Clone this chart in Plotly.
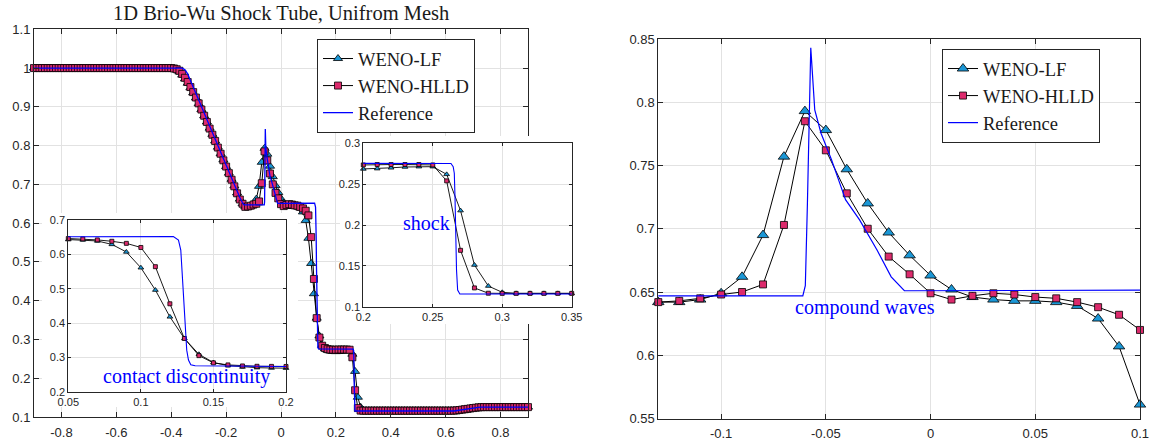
import plotly.graph_objects as go

# ---------------- data ----------------
# numerical mesh (uniform, dx = 0.01)
X_MESH = [round(-0.9 + 0.01 * i, 2) for i in range(181)]

WENO_LF = [
    1.0, 1.0, 1.0, 1.0, 1.0, 1.0, 1.0, 1.0, 1.0, 1.0,
    1.0, 1.0, 1.0, 1.0, 1.0, 1.0, 1.0, 1.0, 1.0, 1.0,
    1.0, 1.0, 1.0, 1.0, 1.0, 1.0, 1.0, 1.0, 1.0, 1.0,
    1.0, 1.0, 1.0, 1.0, 1.0, 1.0, 1.0, 1.0, 1.0, 1.0,
    1.0, 1.0, 1.0, 1.0, 1.0, 1.0, 1.0, 1.0, 1.0, 1.0,
    0.999, 0.998, 0.995, 0.990, 0.982, 0.972, 0.961, 0.949, 0.936, 0.923,
    0.908, 0.893, 0.877, 0.861, 0.845, 0.829, 0.812, 0.796, 0.779, 0.763,
    0.746, 0.729, 0.713, 0.696, 0.678, 0.662, 0.650, 0.642, 0.642, 0.644,
    0.649, 0.662, 0.695, 0.757, 0.793, 0.778, 0.747, 0.720, 0.697, 0.679,
    0.663, 0.652, 0.646, 0.644, 0.643, 0.643, 0.642, 0.639, 0.629, 0.607,
    0.561, 0.496, 0.418, 0.355, 0.309, 0.285, 0.276, 0.272, 0.270, 0.269,
    0.2686, 0.269, 0.270, 0.271, 0.2714, 0.2714, 0.262, 0.2176, 0.151, 0.1253,
    0.1176,
    0.1163, 0.1163, 0.1163, 0.1163, 0.1163, 0.1163, 0.1163, 0.1163, 0.1163, 0.1163,
    0.1163, 0.1163, 0.1163, 0.1163, 0.1163, 0.1163, 0.1163, 0.1163, 0.1163, 0.1163,
    0.1163, 0.1163, 0.1163, 0.1163, 0.1163, 0.1163, 0.1163, 0.1163, 0.1163, 0.1163,
    0.1163, 0.1163,
    0.1165, 0.117, 0.118, 0.119, 0.120, 0.121, 0.122, 0.123, 0.124, 0.1248, 0.1253,
    0.1255, 0.1255, 0.1255, 0.1255, 0.1255, 0.1255, 0.1255, 0.1255, 0.1255, 0.1255,
    0.1255, 0.1255, 0.1255, 0.1255, 0.1255, 0.1255, 0.1255,
]

WENO_HLLD = [
    1.0, 1.0, 1.0, 1.0, 1.0, 1.0, 1.0, 1.0, 1.0, 1.0,
    1.0, 1.0, 1.0, 1.0, 1.0, 1.0, 1.0, 1.0, 1.0, 1.0,
    1.0, 1.0, 1.0, 1.0, 1.0, 1.0, 1.0, 1.0, 1.0, 1.0,
    1.0, 1.0, 1.0, 1.0, 1.0, 1.0, 1.0, 1.0, 1.0, 1.0,
    1.0, 1.0, 1.0, 1.0, 1.0, 1.0, 1.0, 1.0, 1.0, 1.0,
    1.0, 0.999, 0.997, 0.993, 0.985, 0.975, 0.964, 0.951, 0.938, 0.924,
    0.909, 0.893, 0.877, 0.861, 0.844, 0.828, 0.812, 0.795, 0.779, 0.762,
    0.746, 0.729, 0.712, 0.695, 0.677, 0.661, 0.650, 0.642, 0.643, 0.645,
    0.648, 0.650, 0.656, 0.703, 0.785, 0.762, 0.728, 0.700, 0.678, 0.664,
    0.649, 0.644, 0.647, 0.649, 0.648, 0.646, 0.645, 0.642, 0.638, 0.632,
    0.620, 0.564, 0.456, 0.355, 0.305, 0.284, 0.278, 0.275, 0.274, 0.2737,
    0.2735, 0.274, 0.274, 0.274, 0.274, 0.2735, 0.254, 0.169, 0.123, 0.1165,
    0.1163, 0.1163, 0.1163, 0.1163, 0.1163, 0.1163, 0.1163, 0.1163, 0.1163, 0.1163,
    0.1163, 0.1163, 0.1163, 0.1163, 0.1163, 0.1163, 0.1163, 0.1163, 0.1163, 0.1163,
    0.1163, 0.1163, 0.1163, 0.1163, 0.1163, 0.1163, 0.1163, 0.1163, 0.1163, 0.1163,
    0.1163, 0.1163, 0.1163,
    0.1165, 0.117, 0.118, 0.119, 0.120, 0.121, 0.122, 0.123, 0.124, 0.1248, 0.1253,
    0.1255, 0.1255, 0.1255, 0.1255, 0.1255, 0.1255, 0.1255, 0.1255, 0.1255, 0.1255,
    0.1255, 0.1255, 0.1255, 0.1255, 0.1255, 0.1255, 0.1255,
]

# high-resolution reference solution (polyline vertices)
REF_X = [-0.9, -0.36, -0.35, -0.34, -0.33, -0.32, -0.30, -0.25, -0.20, -0.17,
         -0.15, -0.14, -0.135, -0.061, -0.0598, -0.0588, -0.0572, -0.0553, -0.0523, -0.0498,
         -0.0473, -0.044, -0.0406, -0.0339, -0.0255, -0.0188, -0.0125, -0.010, 0.1224, 0.1259,
         0.1275, 0.1282, 0.1293, 0.1305, 0.1316, 0.1328, 0.1344, 0.1374, 0.2631, 0.2647,
         0.2655, 0.2660, 0.2664, 0.2671, 0.2679, 0.2695, 0.63, 0.66, 0.70, 0.725,
         0.9]
REF_Y = [1.0, 1.0, 0.996, 0.985, 0.968, 0.951, 0.918, 0.833, 0.749, 0.699,
         0.666, 0.652, 0.647, 0.647, 0.655, 0.72, 0.843, 0.794, 0.7755, 0.765,
         0.7545, 0.739, 0.723, 0.707, 0.683, 0.662, 0.651, 0.651, 0.6515, 0.6417,
         0.6126, 0.564, 0.486, 0.389, 0.321, 0.292, 0.2786, 0.2755, 0.2753, 0.2714,
         0.2633, 0.2347, 0.1939, 0.1449, 0.1204, 0.1155, 0.1155, 0.119, 0.123, 0.1255,
         0.1255]

TITLE = "1D Brio-Wu Shock Tube, Unifrom Mesh"
NAMES = ["WENO-LF", "WENO-HLLD", "Reference"]

MAIN_XTICKS = [-0.8, -0.6, -0.4, -0.2, 0, 0.2, 0.4, 0.6, 0.8]
MAIN_XTEXT = ["-0.8", "-0.6", "-0.4", "-0.2", "0", "0.2", "0.4", "0.6", "0.8"]
MAIN_YTICKS = [0.1, 0.2, 0.3, 0.4, 0.5, 0.6, 0.7, 0.8, 0.9, 1.0, 1.1]
MAIN_YTEXT = ["0.1", "0.2", "0.3", "0.4", "0.5", "0.6", "0.7", "0.8", "0.9", "1", "1.1"]
ZOOM_XTICKS = [-0.1, -0.05, 0, 0.05, 0.1]
ZOOM_XTEXT = ["-0.1", "-0.05", "0", "0.05", "0.1"]
ZOOM_YTICKS = [0.55, 0.6, 0.65, 0.7, 0.75, 0.8, 0.85]
ZOOM_YTEXT = ["0.55", "0.6", "0.65", "0.7", "0.75", "0.8", "0.85"]
CD_XTICKS = [0.05, 0.1, 0.15, 0.2]
CD_XTEXT = ["0.05", "0.1", "0.15", "0.2"]
CD_YTICKS = [0.2, 0.3, 0.4, 0.5, 0.6, 0.7]
CD_YTEXT = ["0.2", "0.3", "0.4", "0.5", "0.6", "0.7"]
SH_XTICKS = [0.2, 0.25, 0.3, 0.35]
SH_XTEXT = ["0.2", "0.25", "0.3", "0.35"]
SH_YTICKS = [0.1, 0.15, 0.2, 0.25, 0.3]
SH_YTEXT = ["0.1", "0.15", "0.2", "0.25", "0.3"]

ANNOTATIONS = ["contact discontinuity", "shock", "compound waves"]

# ---------------- styling ----------------
W, H = 1149, 440
LF_FILL = "#1b97d6"
HLLD_FILL = "#dc2a6c"
REF_COLOR = "#0000ff"
AX_COLOR = "#262626"
GRID = "#e2e2e2"
SERIF = "Liberation Serif, Times New Roman, serif"
SANS = "Liberation Sans, Arial, sans-serif"


def px_x(a, b):
    return [a / W, b / W]


def px_y(top, bottom):
    return [1 - bottom / H, 1 - top / H]


def subset(lo, hi):
    xs, lf, hl = [], [], []
    for x, a, b in zip(X_MESH, WENO_LF, WENO_HLLD):
        if lo - 1e-9 <= x <= hi + 1e-9:
            xs.append(x)
            lf.append(a)
            hl.append(b)
    return xs, lf, hl


fig = go.Figure()


def add_series(xr, yr, lo, hi, tri, sq, lw, refw, legend=None, show=False):
    xs, lf, hl = subset(lo, hi)
    kw = {}
    if legend:
        kw["legend"] = legend
    fig.add_trace(go.Scatter(
        x=xs, y=lf, xaxis=xr, yaxis=yr, mode="lines+markers", name=NAMES[0],
        line=dict(color="black", width=lw),
        marker=dict(symbol="triangle-up", size=tri, color=LF_FILL,
                    line=dict(color="black", width=0.8)),
        cliponaxis=False, showlegend=show, **kw))
    fig.add_trace(go.Scatter(
        x=xs, y=hl, xaxis=xr, yaxis=yr, mode="lines+markers", name=NAMES[1],
        line=dict(color="black", width=lw),
        marker=dict(symbol="square", size=sq, color=HLLD_FILL,
                    line=dict(color="black", width=0.8)),
        cliponaxis=False, showlegend=show, **kw))
    fig.add_trace(go.Scatter(
        x=REF_X, y=REF_Y, xaxis=xr, yaxis=yr, mode="lines", name=NAMES[2],
        line=dict(color=REF_COLOR, width=refw),
        cliponaxis=True, showlegend=show, **kw))


def add_bg(xr, yr):
    fig.add_trace(go.Scatter(
        x=[0, 1, 1, 0, 0], y=[0, 0, 1, 1, 0], xaxis=xr, yaxis=yr,
        mode="lines", fill="toself", fillcolor="white",
        line=dict(width=0, color="white"), hoverinfo="skip", showlegend=False))


# main plot
add_series("x", "y", -0.9, 0.9, 8, 7, 1.0, 1.3, legend="legend", show=True)
# zoomed plot (right)
add_series("x2", "y2", -0.13, 0.1, 10, 7, 1.0, 1.2, legend="legend2", show=True)
# inset: contact discontinuity
add_bg("x3", "y3")
add_series("x4", "y4", 0.05, 0.2, 5, 4, 0.9, 1.1)
# inset: shock
add_bg("x5", "y5")
add_series("x6", "y6", 0.2, 0.35, 5, 4, 0.9, 1.1)


def axis(domain, rng, tv, tt, anchor, size=13, ticklen=5, standoff=None):
    d = dict(domain=domain, range=rng, anchor=anchor, tickvals=tv, ticktext=tt,
             automargin=False, ticklabeloverflow="allow",
             showgrid=True, gridcolor=GRID, gridwidth=1, zeroline=False,
             showline=True, linecolor=AX_COLOR, linewidth=1, mirror="ticks",
             ticks="inside", ticklen=ticklen, tickcolor=AX_COLOR, tickwidth=1,
             tickfont=dict(family=SANS, size=size, color=AX_COLOR))
    if standoff is not None:
        d["ticklabelstandoff"] = standoff
    return d


hidden = dict(visible=False, showgrid=False, zeroline=False, range=[0, 1],
              fixedrange=True, automargin=False)

LEG_FONT = dict(family=SERIF, size=18.5, color="#1a1a1a")

fig.update_layout(
    width=W, height=H, autosize=False,
    margin=dict(l=0, r=0, t=0, b=0, pad=0),
    paper_bgcolor="white", plot_bgcolor="white",
    xaxis=axis(px_x(34, 528), [-0.9, 0.9], MAIN_XTICKS, MAIN_XTEXT, "y", standoff=3),
    yaxis=axis(px_y(29.3, 417), [0.1, 1.1], MAIN_YTICKS, MAIN_YTEXT, "x"),
    xaxis2=axis(px_x(658.3, 1140), [-0.13, 0.1], ZOOM_XTICKS, ZOOM_XTEXT, "y2", standoff=3),
    yaxis2=axis(px_y(39, 418.5), [0.55, 0.85], ZOOM_YTICKS, ZOOM_YTEXT, "x2"),
    xaxis3=dict(hidden, domain=px_x(42, 298), anchor="y3"),
    yaxis3=dict(hidden, domain=px_y(213, 407), anchor="x3"),
    xaxis4=axis(px_x(68.3, 286), [0.05, 0.2], CD_XTICKS, CD_XTEXT, "y4", size=11, ticklen=3),
    yaxis4=axis(px_y(220, 391.7), [0.2, 0.7], CD_YTICKS, CD_YTEXT, "x4", size=11, ticklen=3),
    xaxis5=dict(hidden, domain=px_x(340, 585), anchor="y5"),
    yaxis5=dict(hidden, domain=px_y(136, 324), anchor="x5"),
    xaxis6=axis(px_x(363.3, 571.7), [0.2, 0.35], SH_XTICKS, SH_XTEXT, "y6", size=11, ticklen=3),
    yaxis6=axis(px_y(143.3, 306.7), [0.1, 0.3], SH_YTICKS, SH_YTEXT, "x6", size=11, ticklen=3),
    legend=dict(x=317 / W, y=1 - 39 / H, xanchor="left", yanchor="top",
                bgcolor="white", bordercolor=AX_COLOR, borderwidth=1,
                font=LEG_FONT, itemwidth=30, tracegroupgap=0),
    legend2=dict(x=942 / W, y=1 - 49 / H, xanchor="left", yanchor="top",
                 bgcolor="white", bordercolor=AX_COLOR, borderwidth=1,
                 font=LEG_FONT, itemwidth=30, tracegroupgap=0),
    showlegend=True,
    annotations=[
        dict(text=TITLE, x=281 / W, y=1 - 13 / H, xref="paper", yref="paper",
             showarrow=False, xanchor="center", yanchor="middle",
             font=dict(family=SERIF, size=20.5, color="#1a1a1a")),
        dict(text=ANNOTATIONS[0], x=186.7 / W, y=1 - 376 / H, xref="paper", yref="paper",
             showarrow=False, xanchor="center", yanchor="middle",
             font=dict(family=SERIF, size=20, color=REF_COLOR)),
        dict(text=ANNOTATIONS[1], x=426.7 / W, y=1 - 223 / H, xref="paper", yref="paper",
             showarrow=False, xanchor="center", yanchor="middle",
             font=dict(family=SERIF, size=20, color=REF_COLOR)),
        dict(text=ANNOTATIONS[2], x=865 / W, y=1 - 307.7 / H, xref="paper", yref="paper",
             showarrow=False, xanchor="center", yanchor="middle",
             font=dict(family=SERIF, size=20, color=REF_COLOR)),
    ],
)

fig.write_html(
    "out.html",
    config={"displayModeBar": False},
    post_script="document.body.style.margin='0';document.body.style.overflow='hidden';",
)
